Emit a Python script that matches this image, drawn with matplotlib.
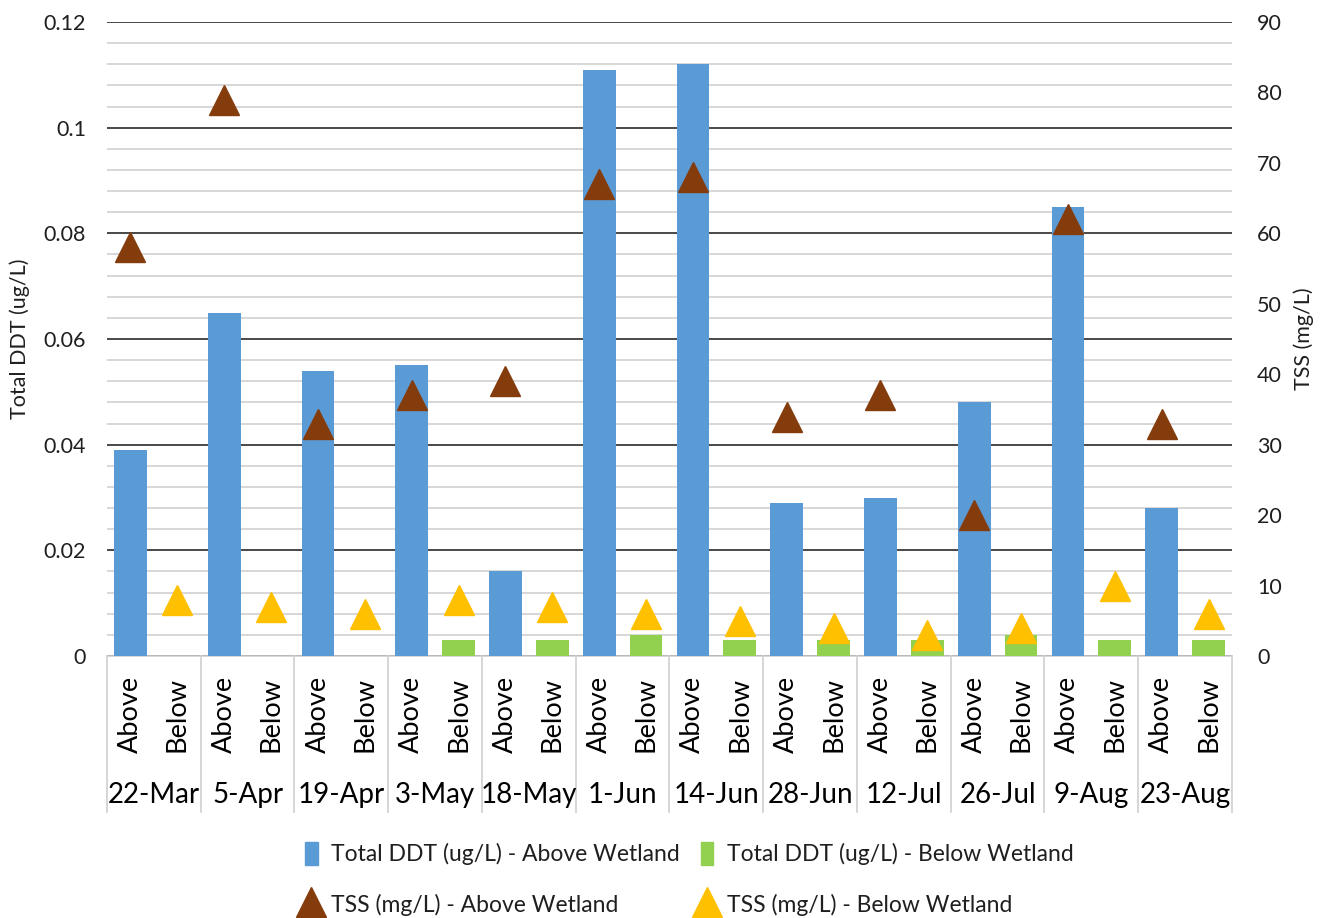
import matplotlib
matplotlib.use("Agg")
import matplotlib.pyplot as plt
import matplotlib.transforms as mtransforms
from matplotlib.patches import Patch
from matplotlib.lines import Line2D
import numpy as np

plt.rcParams['font.family'] = ['Lato', 'DejaVu Sans']

dates = ['22-Mar', '5-Apr', '19-Apr', '3-May', '18-May', '1-Jun',
         '14-Jun', '28-Jun', '12-Jul', '26-Jul', '9-Aug', '23-Aug']
sites = ['Above', 'Below']

ddt_above = [0.039, 0.065, 0.054, 0.055, 0.016, 0.111,
             0.112, 0.029, 0.030, 0.048, 0.085, 0.028]
ddt_below = [0, 0, 0, 0.003, 0.003, 0.004,
             0.003, 0.003, 0.003, 0.004, 0.003, 0.003]
tss_above = [58, 79, 33, 37, 39, 67, 68, 34, 37, 20, 62, 33]
tss_below = [8, 7, 6, 8, 7, 6, 5, 4, 3, 4, 10, 6]

c_blue = '#5B9BD5'
c_green = '#92D050'
c_brown = '#843C0C'
c_yellow = '#FFC000'
txt = '#1f1f1f'

n = len(dates)
x_above = np.arange(n) * 2
x_below = x_above + 1

fig = plt.figure(figsize=(13.21, 9.18), dpi=100)
ax1 = fig.add_axes([0.081, 0.2854, 0.8516, 0.6906])

ax1.bar(x_above, ddt_above, width=0.7, color=c_blue, zorder=3)
ax1.bar(x_below, ddt_below, width=0.7, color=c_green, zorder=3)

ax1.set_xlim(-0.5, 2 * n - 0.5)
ax1.set_ylim(0, 0.12)
ax1.set_yticks(np.arange(0, 0.121, 0.02))
ax1.set_yticklabels(['0', '0.02', '0.04', '0.06', '0.08', '0.1', '0.12'])
ax1.set_yticks(np.arange(0, 0.121, 0.004), minor=True)
ax1.grid(which='major', axis='y', color='#3a3a3a', lw=1.3, zorder=1)
ax1.grid(which='minor', axis='y', color='#d4d4d4', lw=1.3, zorder=0)
ax1.set_axisbelow(True)
ax1.tick_params(axis='y', which='both', length=0, labelsize=15.5,
                labelcolor=txt, pad=15)
ax1.set_xticks([])
for s in ['top', 'right', 'left']:
    ax1.spines[s].set_visible(False)
ax1.spines['bottom'].set_color('#d0d0d0')
ax1.spines['bottom'].set_linewidth(1.2)
ax1.set_ylabel('Total DDT (ug/L)', fontsize=15.5, color=txt, labelpad=10)

ax2 = ax1.twinx()
ax2.set_ylim(0, 90)
ax2.set_yticks(np.arange(0, 91, 10))
ax2.tick_params(axis='y', length=0, labelsize=15.5, labelcolor=txt, pad=18)
for s in ['top', 'right', 'left', 'bottom']:
    ax2.spines[s].set_visible(False)
ax2.plot(x_above, tss_above, ls='none', marker='^', ms=21, color=c_brown,
         mec=c_brown)
ax2.plot(x_below, tss_below, ls='none', marker='^', ms=21, color=c_yellow,
         mec=c_yellow)
ax2.set_ylabel('TSS (mg/L)', fontsize=15.5, color=txt, labelpad=8)

# two-level category axis
trans = mtransforms.blended_transform_factory(ax1.transData, ax1.transAxes)
for b in np.arange(-0.5, 2 * n, 2):
    ax1.plot([b, b], [0, -0.246], transform=trans, color='#d0d0d0', lw=1.2,
             clip_on=False)
for i in range(n):
    for j, s in enumerate(sites):
        ax1.text(2 * i + j, -0.0915, s, transform=trans, rotation=90,
                 ha='center', va='center', fontsize=19.5, color='black')
    ax1.text(2 * i + 0.5, -0.219, dates[i], transform=trans, ha='center',
             va='center', fontsize=20, color='black')

handles = [Patch(color=c_blue),
           Line2D([], [], ls='none', marker='^', ms=22, color=c_brown),
           Patch(color=c_green),
           Line2D([], [], ls='none', marker='^', ms=22, color=c_yellow)]
labels = ['Total DDT (ug/L) - Above Wetland', 'TSS (mg/L) - Above Wetland',
          'Total DDT (ug/L) - Below Wetland', 'TSS (mg/L) - Below Wetland']
fig.legend(handles, labels, ncol=2, loc='center', bbox_to_anchor=(0.522, 0.0425),
           frameon=False, fontsize=16.5, handlelength=0.55, handleheight=1.2,
           handletextpad=0.6, columnspacing=0.9, labelspacing=1.2,
           labelcolor=txt)

fig.savefig('out.png', dpi=100)
